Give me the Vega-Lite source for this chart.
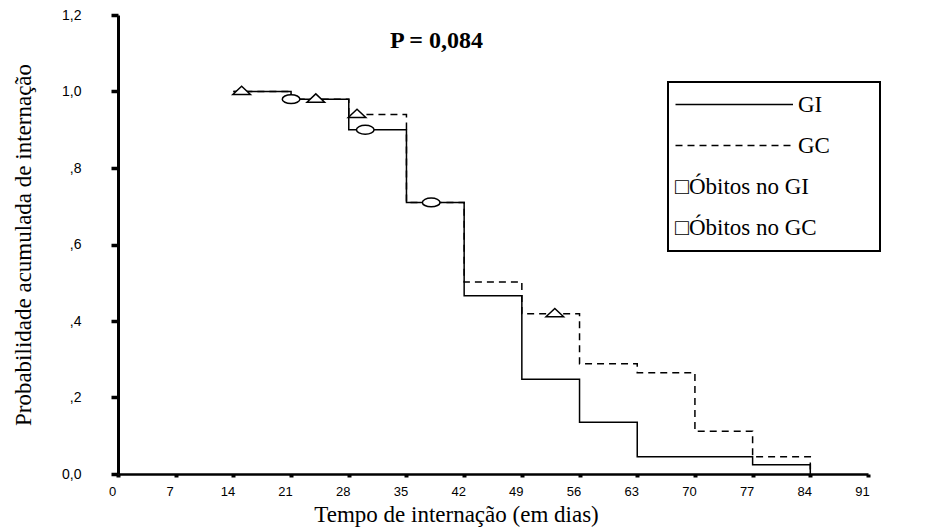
{
  "$schema": "https://vega.github.io/schema/vega-lite/v6.json",
  "width": 750,
  "height": 459,
  "autosize": {"type": "none"},
  "padding": {"left": 118, "top": 15, "right": 65, "bottom": 56},
  "background": "white",
  "config": {"view": {"stroke": null}},
  "title": {
    "text": "P = 0,084",
    "font": "Liberation Serif",
    "fontSize": 24,
    "fontWeight": "bold",
    "color": "black",
    "anchor": "start",
    "frame": "group",
    "baseline": "alphabetic",
    "offset": 0,
    "dx": 272,
    "dy": 64
  },
  "datasets": {
    "curvas": [
      {"serie": "GI", "dia": 14, "prob": 1.0},
      {"serie": "GI", "dia": 21, "prob": 0.98},
      {"serie": "GI", "dia": 28, "prob": 0.90},
      {"serie": "GI", "dia": 35, "prob": 0.71},
      {"serie": "GI", "dia": 42, "prob": 0.466},
      {"serie": "GI", "dia": 49, "prob": 0.248},
      {"serie": "GI", "dia": 56, "prob": 0.135},
      {"serie": "GI", "dia": 63, "prob": 0.045},
      {"serie": "GI", "dia": 77, "prob": 0.024},
      {"serie": "GI", "dia": 84, "prob": 0.0},
      {"serie": "GC", "dia": 14, "prob": 1.0},
      {"serie": "GC", "dia": 21, "prob": 0.98},
      {"serie": "GC", "dia": 28, "prob": 0.94},
      {"serie": "GC", "dia": 35, "prob": 0.71},
      {"serie": "GC", "dia": 42, "prob": 0.502},
      {"serie": "GC", "dia": 49, "prob": 0.419},
      {"serie": "GC", "dia": 56, "prob": 0.288},
      {"serie": "GC", "dia": 63, "prob": 0.265},
      {"serie": "GC", "dia": 70, "prob": 0.112},
      {"serie": "GC", "dia": 77, "prob": 0.045},
      {"serie": "GC", "dia": 84, "prob": 0.0}
    ],
    "obitos": [
      {"serie": "Óbitos no GI", "dia": 21, "prob": 0.98},
      {"serie": "Óbitos no GI", "dia": 30, "prob": 0.90},
      {"serie": "Óbitos no GI", "dia": 38, "prob": 0.71},
      {"serie": "Óbitos no GC", "dia": 15, "prob": 1.0},
      {"serie": "Óbitos no GC", "dia": 24, "prob": 0.98},
      {"serie": "Óbitos no GC", "dia": 29, "prob": 0.94},
      {"serie": "Óbitos no GC", "dia": 53, "prob": 0.419}
    ]
  },
  "encoding": {
    "x": {
      "field": "dia",
      "type": "quantitative",
      "scale": {"domain": [0, 91], "nice": false, "zero": false},
      "axis": {
        "title": "Tempo de internação (em dias)",
        "values": [0, 7, 14, 21, 28, 35, 42, 49, 56, 63, 70, 77, 84, 91],
        "format": "d",
        "grid": false,
        "domainColor": "black",
        "domainWidth": 2.5,
        "tickColor": "black",
        "tickSize": 3,
        "tickWidth": 4,
        "labelFont": "Liberation Sans",
        "labelFontSize": 13,
        "labelColor": "black",
        "labelPadding": 8,
        "labelOffset": -6,
        "labelFlush": false,
        "labelOverlap": false,
        "titleFont": "Liberation Serif",
        "titleFontSize": 23,
        "titleFontWeight": "normal",
        "titleColor": "black",
        "titleX": 338,
        "titlePadding": 5
      }
    },
    "y": {
      "field": "prob",
      "type": "quantitative",
      "scale": {"domain": [0, 1.2], "nice": false},
      "axis": {
        "title": "Probabilidade acumulada de internação",
        "values": [0, 0.2, 0.4, 0.6, 0.8, 1.0, 1.2],
        "format": ".1f",
        "labelExpr": "datum.value === 0 ? '0,0' : replace(replace(datum.label, '0.', ','), '.', ',')",
        "grid": false,
        "domainColor": "black",
        "domainWidth": 3,
        "tickColor": "black",
        "tickSize": 7,
        "tickWidth": 3.5,
        "labelFont": "Liberation Sans",
        "labelFontSize": 14,
        "labelColor": "black",
        "labelPadding": 30,
        "labelOverlap": false,
        "titleFont": "Liberation Serif",
        "titleFontSize": 23,
        "titleFontWeight": "normal",
        "titleColor": "black",
        "titlePadding": 26
      }
    }
  },
  "layer": [
    {
      "data": {"name": "curvas"},
      "mark": {"type": "line", "interpolate": "step-after", "color": "black", "strokeWidth": 1.5},
      "encoding": {
        "strokeDash": {
          "field": "serie",
          "type": "nominal",
          "scale": {
            "domain": ["GI", "GC", "Óbitos no GI", "Óbitos no GC"],
            "range": [[1, 0], [7, 5], [1, 0], [1, 0]]
          },
          "legend": {
            "orient": "none",
            "legendX": 550,
            "legendY": 67,
            "title": "I",
            "titleOrient": "right",
            "titleColor": "transparent",
            "titleFontSize": 10,
            "titlePadding": 36,
            "strokeColor": "black",
            "padding": 11,
            "symbolType": "M0,0 L47,0",
            "symbolSize": 25,
            "symbolOffset": -15,
            "symbolStrokeWidth": 1.5,
            "symbolStrokeColor": "black",
            "symbolFillColor": "transparent",
            "labelFont": "Liberation Serif",
            "labelFontSize": 23,
            "labelColor": "black",
            "labelOffset": 111,
            "labelLimit": 400,
            "rowPadding": 17,
            "labelExpr": "datum.value === 'GI' || datum.value === 'GC' ? datum.label : '□' + datum.label",
            "encode": {
              "legend": {"update": {"strokeWidth": {"value": 2}}},
              "symbols": {"update": {"opacity": {"signal": "datum.value === 'GI' || datum.value === 'GC' ? 1 : 0"}}},
              "labels": {"update": {"dx": {"signal": "datum.value === 'GI' || datum.value === 'GC' ? 0 : -123"}}}
            }
          }
        }
      }
    },
    {
      "data": {"name": "obitos"},
      "mark": {"type": "point", "filled": true, "fill": "white", "stroke": "black", "strokeWidth": 1.5, "opacity": 1, "size": 310},
      "encoding": {
        "shape": {
          "field": "serie",
          "type": "nominal",
          "scale": {
            "domain": ["Óbitos no GI", "Óbitos no GC"],
            "range": ["M-1,0 A1,0.5 0 1,1 1,0 A1,0.5 0 1,1 -1,0 Z", "M-1,0.35 L1,0.35 L0,-0.6 Z"]
          },
          "legend": null
        }
      }
    }
  ]
}
